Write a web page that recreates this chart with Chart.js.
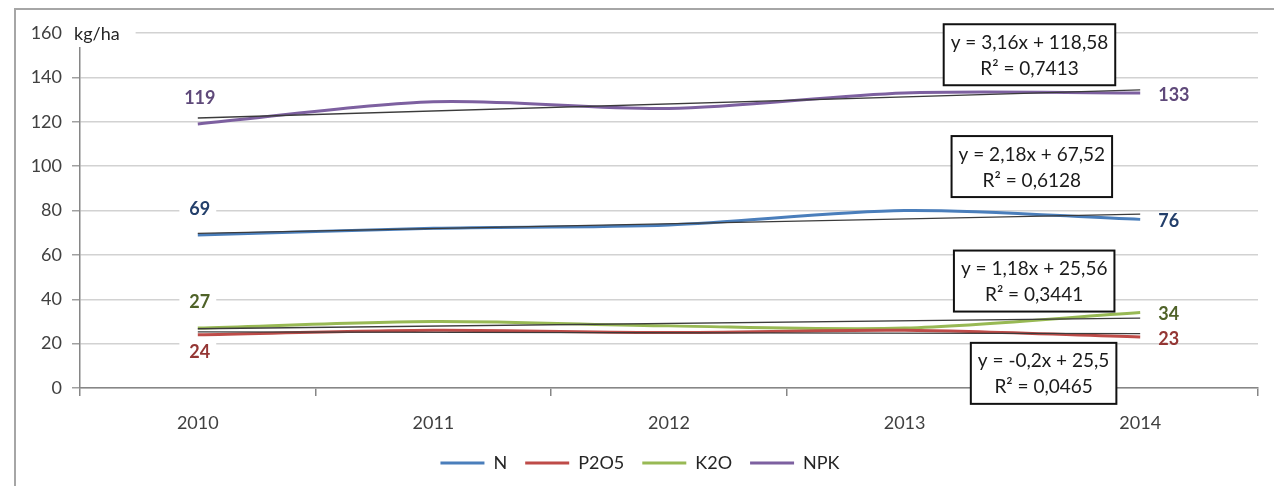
<!DOCTYPE html>
<html>
<head>
<meta charset="utf-8">
<script src="https://cdn.jsdelivr.net/npm/chart.js@4"></script>
<style>
  html, body { margin: 0; padding: 0; background: #fff; }
  #wrap { position: relative; width: 1274px; height: 486px; overflow: hidden; }
  #frame { position: absolute; left: 14px; top: 8px; width: 1280px; height: 500px; border: 2px solid #a6a6a6; box-sizing: border-box; }
  canvas { position: absolute; left: 0; top: 0; }
</style>
</head>
<body>
<div id="wrap">
  <div id="frame"></div>
  <canvas id="chart" width="1274" height="486"></canvas>
</div>
<script>
const years = ["2010", "2011", "2012", "2013", "2014"];
const nVals = [69, 72, 73.5, 80, 76];
const p2o5Vals = [24, 26, 25, 26, 23];
const k2oVals = [27, 30, 28, 27, 34];
const npkVals = [119, 129, 126, 133, 133];

// trend lines, start and end
const nTrend = [69.7, null, null, null, 78.4];
const p2o5Trend = [25.3, null, null, null, 24.5];
const k2oTrend = [26.7, null, null, null, 31.5];
const npkTrend = [121.7, null, null, null, 134.4];

const yTicks = [0, 20, 40, 60, 80, 100, 120, 140, 160];
const equations = [
  ["y = 3,16x + 118,58", "R² = 0,7413"],
  ["y = 2,18x + 67,52", "R² = 0,6128"],
  ["y = 1,18x + 25,56", "R² = 0,3441"],
  ["y = -0,2x + 25,5", "R² = 0,0465"]
];
// where each equation box sits, in axis units (category index, kg/ha)
const eqX = [3.53, 3.54, 3.55, 3.59];
const eqY = [150.2, 99.8, 48.2, 6.6];

const FONT = "Lato";
Chart.defaults.font.family = FONT;
Chart.defaults.font.size = 18;
Chart.defaults.color = "#404040";

const labelStyle = [
  { ds: 0, color: "#233f6b", below: false },
  { ds: 1, color: "#943634", below: true },
  { ds: 2, color: "#4f6228", below: false },
  { ds: 3, color: "#5f497a", below: false }
];

const extras = {
  id: "extras",
  afterDatasetsDraw(chart) {
    const ctx = chart.ctx;
    const x = chart.scales.x, y = chart.scales.y;
    ctx.save();
    ctx.textBaseline = "middle";

    // unit label over the top gridline
    ctx.font = "18px " + FONT;
    const unit = "kg/ha";
    const uw = ctx.measureText(unit).width;
    ctx.fillStyle = "#fff";
    ctx.fillRect(x.left - 14, y.top - 12, uw + 24, 26);
    ctx.fillStyle = "#262626";
    ctx.textAlign = "left";
    ctx.fillText(unit, x.left - 6, y.top + 1);

    // value labels at first and last year
    ctx.font = "bold 18px " + FONT;
    labelStyle.forEach(s => {
      const meta = chart.getDatasetMeta(s.ds);
      const vals = chart.data.datasets[s.ds].data;
      const p0 = meta.data[0], p4 = meta.data[4];
      const t0 = String(vals[0]), t4 = String(vals[4]);
      const ly = s.below ? p0.y + 17 : p0.y - 26;
      const w0 = ctx.measureText(t0).width;
      ctx.fillStyle = "#fff";
      ctx.fillRect(p0.x - w0 / 2 - 8, ly - 12, w0 + 16, 24);
      ctx.fillStyle = s.color;
      ctx.textAlign = "center";
      ctx.fillText(t0, p0.x + 2, ly);
      ctx.textAlign = "left";
      ctx.fillText(t4, p4.x + 18, p4.y + 2);
    });

    // regression boxes
    ctx.font = "19px " + FONT;
    equations.forEach((lines, i) => {
      const cx = x.getPixelForValue(eqX[i]);
      const cy = y.getPixelForValue(eqY[i]);
      const w = Math.max(...lines.map(l => ctx.measureText(l).width)) + 14;
      const h = 61;
      ctx.fillStyle = "#fff";
      ctx.fillRect(cx - w / 2, cy - h / 2, w, h);
      ctx.lineWidth = 2;
      ctx.strokeStyle = "#111";
      ctx.strokeRect(cx - w / 2, cy - h / 2, w, h);
      ctx.fillStyle = "#1a1a1a";
      ctx.textAlign = "center";
      ctx.fillText(lines[0], cx, cy - 12);
      ctx.fillText(lines[1], cx, cy + 14);
    });
    ctx.restore();
  }
};

function series(label, data, color) {
  return {
    label: label, data: data,
    borderColor: color, backgroundColor: color,
    borderWidth: 3, pointRadius: 0, tension: 0.3, order: 2
  };
}
function trend(data) {
  return {
    label: "trend", data: data, spanGaps: true,
    borderColor: "#3b3b3b", borderWidth: 1.3, pointRadius: 0, tension: 0, order: 1
  };
}

new Chart(document.getElementById("chart"), {
  type: "line",
  data: {
    labels: years,
    datasets: [
      series("N", nVals, "#4a7ebb"),
      series("P2O5", p2o5Vals, "#be4b48"),
      series("K2O", k2oVals, "#98b954"),
      series("NPK", npkVals, "#7d60a0"),
      trend(nTrend), trend(p2o5Trend), trend(k2oTrend), trend(npkTrend)
    ]
  },
  options: {
    responsive: false,
    animation: false,
    devicePixelRatio: 1,
    layout: { padding: { left: 22, right: 16, top: 33, bottom: 4 } },
    plugins: {
      legend: {
        position: "bottom",
        labels: {
          usePointStyle: true, pointStyle: "line", pointStyleWidth: 44,
          color: "#262626", padding: 18,
          filter: item => item.text !== "trend"
        }
      },
      tooltip: { enabled: false }
    },
    scales: {
      x: {
        offset: true,
        grid: { offset: true, drawOnChartArea: false, tickLength: 8, color: "#868686", lineWidth: 1.5 },
        border: { color: "#868686", width: 1.5 },
        ticks: { padding: 16, color: "#404040" },
        afterFit: s => { s.height = 48; }
      },
      y: {
        min: 0, max: 160,
        afterBuildTicks: s => { s.ticks = yTicks.map(v => ({ value: v })); },
        grid: { color: "#d2d2d2", lineWidth: 1.5, tickLength: 8, tickColor: "#a0a0a0" },
        border: { color: "#868686", width: 1.5 },
        ticks: { padding: 10, color: "#404040" },
        afterFit: s => { s.width = 58; }
      }
    }
  },
  plugins: [extras]
});
</script>
</body>
</html>
